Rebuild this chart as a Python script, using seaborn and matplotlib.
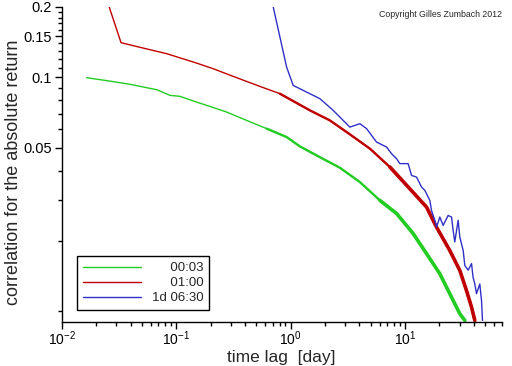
import numpy as np
import pandas as pd
import seaborn as sns
import matplotlib
matplotlib.use("Agg")
import matplotlib.pyplot as plt
from matplotlib.ticker import FixedLocator, FixedFormatter, NullFormatter

# datos (lag en dias, correlacion)
lag_0003 = [0.0165, 0.0264, 0.0395, 0.0676, 0.0883, 0.108, 0.151, 0.197, 0.276,
            0.413, 0.617, 0.923, 1.206, 1.803, 2.696, 4.03, 6.03, 8.43, 11.78,
            15.42, 20.14, 24.6, 30.1, 33.3]
corr_0003 = [0.0997, 0.0964, 0.0934, 0.0886, 0.0838, 0.0830, 0.0784, 0.0752,
             0.0711, 0.0655, 0.0604, 0.0556, 0.0507, 0.0456, 0.0411, 0.0357,
             0.0298, 0.0262, 0.0215, 0.01764, 0.01448, 0.0119, 0.00977, 0.00915]

lag_0100 = [0.0260, 0.0330, 0.0516, 0.0826, 0.151, 0.211, 0.315, 0.540, 0.806,
            1.474, 2.203, 3.296, 4.93, 7.37, 11.02, 15.42, 18.84, 24.6, 30.1,
            34.4, 38.1, 40.7]
corr_0100 = [0.200, 0.1407, 0.1334, 0.1263, 0.1151, 0.1089, 0.1010, 0.0915,
             0.0852, 0.0723, 0.0655, 0.0571, 0.0496, 0.0414, 0.0334, 0.0279,
             0.0229, 0.0182, 0.01496, 0.01229, 0.01043, 0.00915]

lag_1d0630 = [0.705, 0.923, 1.054, 1.288, 1.803, 2.355, 3.296, 4.03, 4.61, 5.64,
              6.89, 7.62, 8.43, 9.01, 10.64, 11.40, 12.60, 13.93, 14.89, 16.47,
              17.03, 18.20, 18.84, 20.14, 21.53, 23.79, 25.5, 26.3, 27.2, 29.1,
              30.1, 31.1, 32.2, 33.3, 35.6, 38.1, 39.3, 40.7, 42.1, 45.0, 46.6,
              47.5]
corr_1d0630 = [0.200, 0.1107, 0.0924, 0.0880, 0.0811, 0.0723, 0.0613, 0.0634,
               0.0604, 0.0529, 0.0504, 0.0472, 0.0449, 0.0428, 0.0428, 0.0381,
               0.0375, 0.0340, 0.0329, 0.0298, 0.0270, 0.0245, 0.0229, 0.0253,
               0.0233, 0.0257, 0.0253, 0.0222, 0.0198, 0.0245, 0.0208, 0.0195,
               0.0182, 0.0157, 0.0150, 0.0160, 0.0140, 0.0131, 0.0119, 0.0131,
               0.0111, 0.00915]

# etiquetas alineadas a la derecha con espacios de cifra
labels = ["\u2007\u2007 00:03", "\u2007\u2007 01:00", "1d 06:30"]
colores = ["#22cc22", "#c00000", "#3030c8"]

df = pd.concat([
    pd.DataFrame({"lag": lag_0003, "corr": corr_0003, "serie": labels[0]}),
    pd.DataFrame({"lag": lag_0100, "corr": corr_0100, "serie": labels[1]}),
    pd.DataFrame({"lag": lag_1d0630, "corr": corr_1d0630, "serie": labels[2]}),
])

sns.set_style("ticks")
plt.rcParams["font.family"] = ["Liberation Sans", "DejaVu Sans"]

fig = plt.figure(figsize=(5.12, 3.66), dpi=100)
ax = fig.add_axes([0.1205, 0.12, 0.8595, 0.861])

# la cola ruidosa de las series cortas se ve como una banda mas gruesa
cortas = df[df["serie"] != labels[2]]
for desde, grosor in [(0.6, 1.7), (5.0, 2.6)]:
    sns.lineplot(data=cortas[cortas["lag"] >= desde], x="lag", y="corr",
                 hue="serie", palette=colores[:2], estimator=None, sort=False,
                 linewidth=grosor, legend=False, ax=ax)

sns.lineplot(data=df, x="lag", y="corr", hue="serie", palette=colores,
             estimator=None, sort=False, linewidth=1.0, ax=ax)

ax.set_xscale("log")
ax.set_yscale("log")
ax.set_xlim(0.01, 70)
ax.set_ylim(0.009, 0.2)

ax.yaxis.set_major_locator(FixedLocator([0.05, 0.1, 0.15, 0.2]))
ax.yaxis.set_major_formatter(FixedFormatter(["0.05", "0.1", "0.15", "0.2"]))
menores = [0.01, 0.02, 0.03, 0.04, 0.06, 0.07, 0.08, 0.09] + \
          [0.11, 0.12, 0.13, 0.14, 0.16, 0.17, 0.18, 0.19]
ax.yaxis.set_minor_locator(FixedLocator(menores))
ax.yaxis.set_minor_formatter(NullFormatter())

ax.tick_params(axis="both", which="major", length=5, width=1,
               color="black", labelcolor="black")
ax.tick_params(axis="y", which="major", labelsize=10.5, pad=2)
ax.tick_params(axis="x", which="major", labelsize=10, pad=0)
ax.tick_params(axis="both", which="minor", length=3, width=1, color="black")

for s in ["top", "right"]:
    ax.spines[s].set_visible(False)
for s in ["left", "bottom"]:
    ax.spines[s].set_color("black")
    ax.spines[s].set_linewidth(1)

ax.set_xlabel("time lag  [day]", fontsize=12.5, va="center")
ax.xaxis.set_label_coords(0.5, -0.112)
ax.set_ylabel("correlation for the absolute return", fontsize=13, va="center")
ax.yaxis.set_label_coords(-0.11, 0.476)

ax.text(1.0, 0.975, "Copyright Gilles Zumbach 2012", transform=ax.transAxes,
        ha="right", va="center", fontsize=6.3)

leg = ax.legend(loc="lower left", bbox_to_anchor=(0.035, 0.038), fontsize=9.5,
                handlelength=4.4, handletextpad=0.8, labelspacing=0.2,
                borderpad=0.45, borderaxespad=0, fancybox=False, framealpha=1,
                edgecolor="black")
leg.get_frame().set_linewidth(1)

fig.savefig("out.png", dpi=100)
